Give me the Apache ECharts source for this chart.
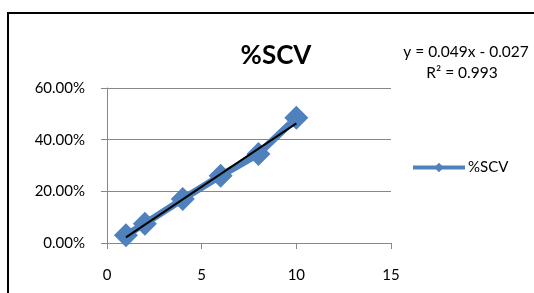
<!DOCTYPE html>
<html>
<head>
<meta charset="utf-8">
<script src="https://cdn.jsdelivr.net/npm/echarts@6/dist/echarts.min.js"></script>
<style>
  html, body { margin: 0; padding: 0; background: #fff; }
  #chart { width: 534px; height: 293px; }
</style>
</head>
<body>
<div id="chart"></div>
<script>
// %SCV 数据
const xValues = [1, 2, 4, 6, 8, 10]
const scvValues = [0.03, 0.075, 0.17, 0.26, 0.345, 0.485]
// 趋势线端点
const trendX = [1, 10]
const trendY = [0.022, 0.463]
const xTicks = [0, 5, 10, 15]
const yTicks = [0, 0.2, 0.4, 0.6]

const chart = echarts.init(document.getElementById('chart'))
const font = 'Lato, "Open Sans", sans-serif'

chart.setOption({
  animation: false,
  textStyle: { fontFamily: font },
  title: {
    text: '%SCV',
    left: 271,
    top: 38,
    textAlign: 'center',
    textStyle: { fontSize: 26, fontWeight: 'bold', color: '#000', fontFamily: font }
  },
  legend: {
    left: 406,
    top: 155,
    itemWidth: 52,
    itemHeight: 12,
    itemGap: 4,
    data: ['%SCV'],
    lineStyle: { width: 4 },
    textStyle: { fontSize: 15, color: '#000', fontFamily: font, padding: [0, 0, 0, -2] }
  },
  graphic: [
    {
      type: 'rect',
      shape: { x: 8, y: 13, width: 560, height: 320 },
      style: { fill: 'none', stroke: '#000', lineWidth: 2 }
    },
    {
      type: 'text',
      x: 466,
      y: 52,
      style: {
        text: 'y = 0.049x - 0.027',
        fontSize: 15.5,
        fill: '#000',
        align: 'center',
        verticalAlign: 'middle',
        fontFamily: font
      }
    },
    {
      type: 'text',
      x: 462,
      y: 73,
      style: {
        text: 'R² = 0.993',
        fontSize: 15.5,
        fill: '#000',
        align: 'center',
        verticalAlign: 'middle',
        fontFamily: font
      }
    }
  ],
  grid: { left: 107, right: 143, top: 88, bottom: 50 },
  xAxis: {
    type: 'value',
    min: xTicks[0],
    max: xTicks[xTicks.length - 1],
    interval: 5,
    axisLine: { show: true, lineStyle: { color: '#888', width: 1 } },
    axisTick: { show: true, length: 6, inside: false, lineStyle: { color: '#888' } },
    splitLine: { show: false },
    axisLabel: { fontSize: 15, color: '#000', margin: 25, fontFamily: font }
  },
  yAxis: {
    type: 'value',
    min: yTicks[0],
    max: yTicks[yTicks.length - 1],
    interval: 0.2,
    axisLine: { show: true, lineStyle: { color: '#888', width: 1 } },
    axisTick: { show: true, length: 6, lineStyle: { color: '#888' } },
    splitLine: { show: true, lineStyle: { color: '#888', width: 1 } },
    axisLabel: {
      fontSize: 15,
      color: '#000',
      margin: 22,
      fontFamily: font,
      formatter: v => (v * 100).toFixed(2) + '%'
    }
  },
  series: [
    {
      name: '%SCV',
      type: 'line',
      data: xValues.map((x, i) => [x, scvValues[i]]),
      symbol: 'diamond',
      symbolSize: 24,
      lineStyle: { color: '#4F81BD', width: 7 },
      itemStyle: { color: '#4F81BD' }
    },
    {
      name: 'trend',
      type: 'line',
      data: trendX.map((x, i) => [x, trendY[i]]),
      symbol: 'none',
      lineStyle: { color: '#000', width: 2 },
      z: 5
    }
  ]
})
</script>
</body>
</html>
